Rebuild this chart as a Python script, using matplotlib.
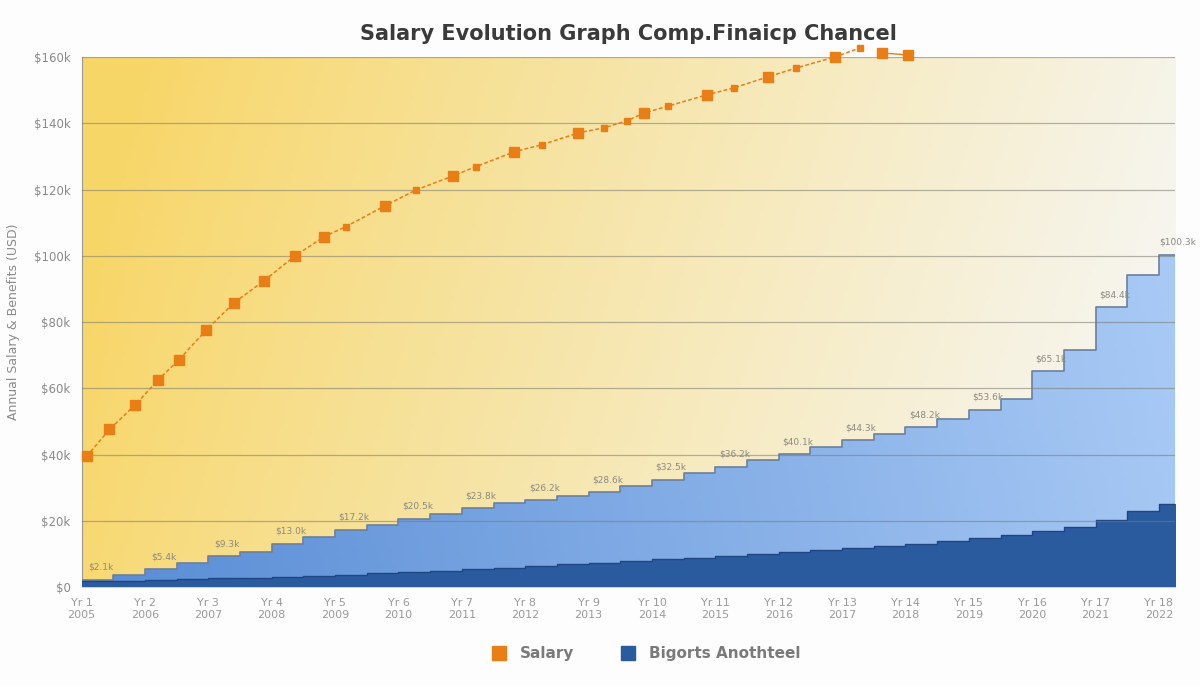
"""Salary evolution chart with stacked step areas."""

import matplotlib.pyplot as plt
import numpy as np
from matplotlib.lines import Line2D

TITLE = "Salary Evolution Graph Comp.Finaicp Chancel"
Y_LABEL = "Annual Salary & Benefits (USD)"
LEGEND_LABELS = ["Salary", "Bigorts Anothteel"]

year_labels = [str(2005 + i) for i in range(18)]
period_labels = [f"Yr {i + 1}" for i in range(18)]
y_ticks = [0, 20, 40, 60, 80, 100, 120, 140, 160]
y_tick_labels = ["$0", "$20k", "$40k", "$60k", "$80k", "$100k", "$120k", "$140k", "$160k"]

# salary points (x in years from start, y in $k)
salary_x = [0.08, 0.44, 0.85, 1.20, 1.54, 1.97, 2.41, 2.88, 3.37, 3.83, 4.17, 4.79,
            5.28, 5.86, 6.22, 6.83, 7.26, 7.84, 8.24, 8.60, 8.88, 9.26, 9.87, 10.30,
            10.83, 11.28, 11.89, 12.28]
salary_k = [39.5, 47.6, 55.1, 62.4, 68.7, 77.7, 85.9, 92.5, 100.0, 105.8, 108.8, 115.1,
            119.9, 124.1, 126.9, 131.4, 133.5, 137.1, 138.6, 140.7, 143.1, 145.2, 148.6,
            150.7, 154.0, 156.7, 160.0, 162.7]
salary_major = [1, 1, 1, 1, 1, 1, 1, 1, 1, 1, 0, 1, 0, 1, 0, 1, 0, 1, 0, 0, 1, 0, 1, 0,
                1, 0, 1, 0]
salary_tail_x = [12.63, 13.04]
salary_tail_k = [161.2, 160.6]

# half-year steps: total (light blue top) and base (dark blue top), $k
step_total = [2.1, 3.6, 5.4, 7.2, 9.3, 10.5, 13.0, 15.1, 17.2, 18.7, 20.5, 22.0, 23.8,
              25.3, 26.2, 27.4, 28.6, 30.4, 32.5, 34.4, 36.2, 38.3, 40.1, 42.2, 44.3,
              46.1, 48.2, 50.9, 53.6, 56.9, 65.1, 71.7, 84.4, 94.3, 100.3]
step_base = [1.8, 1.8, 2.1, 2.4, 2.7, 2.7, 3.0, 3.3, 3.6, 4.2, 4.5, 4.8, 5.4, 5.7, 6.3,
             6.9, 7.2, 7.8, 8.4, 8.7, 9.3, 9.9, 10.5, 11.1, 11.8, 12.4, 13.0, 13.9, 14.8,
             15.7, 16.9, 18.1, 20.2, 22.9, 25.0]

ORANGE = "#e97d16"
DARK_BLUE = "#2b5b9f"
XMIN, XMAX = 0.0, 17.25


def gradient_image(c_left, c_right, power=1.0, tilt=0.0, width=300, height=120):
    tx = np.linspace(0, 1, width)[None, :]
    ty = np.linspace(0, 1, height)[:, None]
    t = np.clip(tx ** power + tilt * (0.5 - ty), 0, 1)
    c0 = np.array(c_left)[None, None, :]
    c1 = np.array(c_right)[None, None, :]
    return c0 + (c1 - c0) * t[..., None]


fig = plt.figure(figsize=(12, 6.86), dpi=100)
fig.patch.set_facecolor("#fdfdfd")
ax = fig.add_axes([0.068, 0.144, 0.911, 0.773])

# background wash
bg = gradient_image((0.97, 0.84, 0.41), (0.965, 0.965, 0.95), power=0.9, tilt=0.15)
ax.imshow(bg, extent=[XMIN, XMAX, 0, 160], aspect="auto", origin="lower", zorder=0)

edges = np.arange(len(step_total) + 1) * 0.5
total = np.append(step_total, step_total[-1])
base = np.append(step_base, step_base[-1])

light = ax.fill_between(edges, base, total, step="post", color="none", zorder=2)
blue_grad = gradient_image((0.36, 0.56, 0.84), (0.66, 0.79, 0.96), power=1.0, tilt=-0.1)
im = ax.imshow(blue_grad, extent=[XMIN, XMAX, 0, 160], aspect="auto", origin="lower",
               zorder=2)
im.set_clip_path(light.get_paths()[0], transform=ax.transData)
ax.step(edges, total, where="post", color="#6d7f9c", lw=1.2, zorder=3)

ax.fill_between(edges, 0, base, step="post", color=DARK_BLUE, zorder=3, lw=0)
ax.step(edges, base, where="post", color="#1f4680", lw=1.0, zorder=3)

# horizontal rules
for yv in y_ticks[1:]:
    ax.axhline(yv, color="#7a7a70", lw=0.9, alpha=0.55, zorder=4)

# small value tags above the steps
for i in range(0, len(step_total), 2):
    ax.text(edges[i] + 0.3, step_total[i] + 2.5, f"${step_total[i]:.1f}k",
            fontsize=6.5, color="#8a8a80", ha="center", va="bottom", zorder=5)

# salary line
ax.plot(salary_x, salary_k, ls=(0, (2.5, 1.5)), color=ORANGE, lw=1.1, zorder=6,
        clip_on=False)
ax.plot(salary_tail_x, salary_tail_k, color=ORANGE, lw=1.0, zorder=6, clip_on=False)
big_x = [x for x, m in zip(salary_x, salary_major) if m] + salary_tail_x
big_y = [y for y, m in zip(salary_k, salary_major) if m] + salary_tail_k
small_x = [x for x, m in zip(salary_x, salary_major) if not m]
small_y = [y for y, m in zip(salary_k, salary_major) if not m]
ax.plot(big_x, big_y, "s", color=ORANGE, ms=7, zorder=7, clip_on=False)
ax.plot(small_x, small_y, "s", color=ORANGE, ms=4, zorder=7, clip_on=False)

ax.set_xlim(XMIN, XMAX)
ax.set_ylim(0, 160)
ax.set_yticks(y_ticks)
ax.set_yticklabels(y_tick_labels, fontsize=8.5, color="#8a8a8a")
ax.set_xticks(range(len(year_labels)))
ax.set_xticklabels([f"{p}\n{y}" for p, y in zip(period_labels, year_labels)],
                   fontsize=8, color="#9a9a9a")
ax.tick_params(length=0, pad=8)
ax.set_ylabel(Y_LABEL, fontsize=9, color="#8a8a8a", labelpad=10)
ax.set_title(TITLE, fontsize=15, color="#3a3a3a", fontweight="semibold", pad=12)

for side in ("top", "right"):
    ax.spines[side].set_visible(False)
ax.spines["left"].set_color("#9a9a9a")
ax.spines["bottom"].set_color("#d0d0d0")

handles = [
    Line2D([], [], marker="s", ls="none", color=ORANGE, ms=10),
    Line2D([], [], marker="s", ls="none", color=DARK_BLUE, ms=10),
]
leg = fig.legend(handles, LEGEND_LABELS, loc="center", bbox_to_anchor=(0.535, 0.047),
                 ncol=2, frameon=False, fontsize=11, labelcolor="#7a7a7a",
                 columnspacing=2.5, handletextpad=0.4)
for text in leg.get_texts():
    text.set_fontweight("bold")

fig.savefig("out.png", dpi=100, facecolor=fig.get_facecolor())
